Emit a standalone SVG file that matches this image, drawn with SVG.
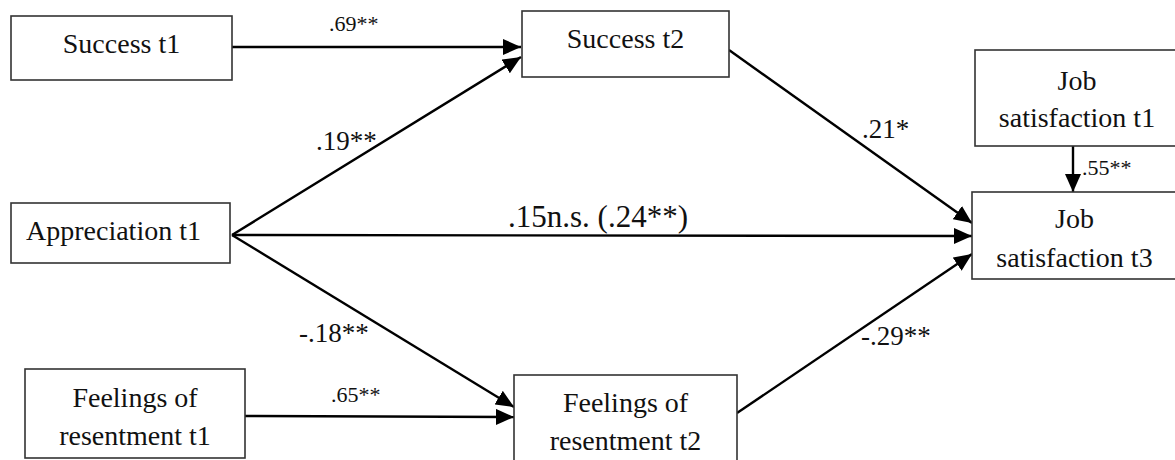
<svg xmlns="http://www.w3.org/2000/svg" width="1175" height="460" viewBox="0 0 1175 460">
<style>
.box{fill:#fff;stroke:#333;stroke-width:1.6}
text{font-family:"Liberation Serif","Times New Roman",Times,serif;fill:#111}
.t{font-size:28px;text-anchor:middle}
.lb{font-size:27px}
.sm{font-size:22px}
.c{stroke:#000;stroke-width:2.4;fill:none;marker-end:url(#ah)}
</style>
<defs>
<marker id="ah" markerUnits="userSpaceOnUse" markerWidth="20" markerHeight="16" refX="18" refY="8" orient="auto">
<path d="M0,0 L18,8 L0,16 z" fill="#000"/>
</marker>
</defs>
<rect width="1175" height="460" fill="#fff"/>
<g id="connectors">
<line class="c" x1="232" y1="47" x2="521" y2="47"/>
<line class="c" x1="232" y1="235" x2="521" y2="57"/>
<line class="c" x1="232" y1="235" x2="972" y2="236"/>
<line class="c" x1="232" y1="235" x2="514" y2="407"/>
<line class="c" x1="245" y1="416" x2="514" y2="417"/>
<line class="c" x1="729" y1="50" x2="972" y2="223"/>
<line class="c" x1="737" y1="413" x2="972" y2="254"/>
<line class="c" x1="1073" y1="146" x2="1073" y2="192"/>
</g>
<g id="labels">
<text class="sm" x="329" y="31">.69**</text>
<text class="lb" x="316" y="150">.19**</text>
<text x="598" y="227" text-anchor="middle" font-size="31">.15n.s. (.24**)</text>
<text class="lb" x="862" y="138">.21*</text>
<text class="sm" x="1082" y="175">.55**</text>
<text class="lb" x="299" y="342">-.18**</text>
<text class="sm" x="331" y="402">.65**</text>
<text class="lb" x="861" y="345">-.29**</text>
</g>
<g id="success-t1">
<rect class="box" x="11" y="16" width="221" height="64"/>
<text class="t" x="121.5" y="53">Success t1</text>
</g>
<g id="success-t2">
<rect class="box" x="522" y="11" width="207" height="66"/>
<text class="t" x="625.5" y="48">Success t2</text>
</g>
<g id="job-satisfaction-t1">
<rect class="box" x="975" y="50" width="203" height="96"/>
<text class="t" x="1077" y="90">Job</text>
<text class="t" x="1077" y="127">satisfaction t1</text>
</g>
<g id="job-satisfaction-t3">
<rect class="box" x="972" y="192" width="206" height="87"/>
<text class="t" x="1074.5" y="228">Job</text>
<text class="t" x="1074.5" y="267">satisfaction t3</text>
</g>
<g id="appreciation-t1">
<rect class="box" x="11" y="203" width="219" height="60"/>
<text class="t" x="113.5" y="240">Appreciation t1</text>
</g>
<g id="feelings-t1">
<rect class="box" x="25" y="369" width="220" height="89"/>
<text class="t" x="135" y="407">Feelings of</text>
<text class="t" x="135" y="445">resentment t1</text>
</g>
<g id="feelings-t2">
<rect class="box" x="514" y="375" width="223" height="90"/>
<text class="t" x="625.5" y="412">Feelings of</text>
<text class="t" x="625.5" y="450">resentment t2</text>
</g>
</svg>
